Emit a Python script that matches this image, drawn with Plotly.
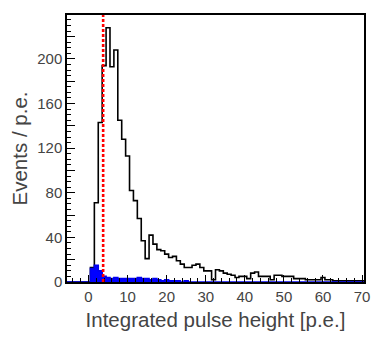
import plotly.graph_objects as go

# ---- data (bin centers in p.e., 1 p.e. wide bins) ----
bin_centers = list(range(-5, 71))

signal_counts = [
    0, 0, 0, 0, 0, 0,            # -5 .. 0
    13, 71, 143, 194, 228,       # 1 .. 5
    193, 208, 145, 128, 113,     # 6 .. 10
    82, 73, 57, 37, 21,          # 11 .. 15
    42, 34, 29, 28, 25,          # 16 .. 20
    22, 23, 19, 16, 13,          # 21 .. 25
    13, 15, 16, 13, 10,          # 26 .. 30
    10, 2, 11, 10, 8,            # 31 .. 35
    7, 6, 4, 5, 5,               # 36 .. 40
    3, 8, 9, 5, 5,               # 41 .. 45
    5, 2, 6, 6, 5,               # 46 .. 50
    5, 5, 3, 3, 3,               # 51 .. 55
    2, 2, 2, 2, 4,               # 56 .. 60
    2, 2, 1, 1, 1,               # 61 .. 65
    1, 1, 1, 1, 1,               # 66 .. 70
]

background_counts = [
    0, 0, 0, 0, 0, 0,            # -5 .. 0
    12, 15, 10, 5, 4,            # 1 .. 5
    3, 4, 3, 3, 3,               # 6 .. 10
    3, 3, 4, 3, 3,               # 11 .. 15
    2, 3, 2, 1, 2,               # 16 .. 20
    1, 1, 1, 0, 1,               # 21 .. 25
    0, 0, 0, 0, 0,               # 26 .. 30
] + [0] * 40                     # 31 .. 70

threshold_pe = 3.75

x_tick_vals = [0, 10, 20, 30, 40, 50, 60, 70]
y_tick_vals = [0, 20, 40, 60, 80, 100, 120, 140, 160, 180, 200, 220]
y_tick_text = ["0", "", "40", "", "80", "", "120", "", "160", "", "200", ""]

x_title = "Integrated pulse height [p.e.]"
y_title = "Events / p.e."


def step_xy(centers, counts):
    xs, ys = [], []
    for c, v in zip(centers, counts):
        xs += [c - 0.5, c + 0.5]
        ys += [v, v]
    return xs, ys


fig = go.Figure()

sx, sy = step_xy(bin_centers, signal_counts)
fig.add_trace(go.Scatter(x=sx, y=sy, mode="lines",
                         line=dict(color="black", width=1.6),
                         hoverinfo="skip", showlegend=False))

bx, by = step_xy(bin_centers, background_counts)
fig.add_trace(go.Scatter(x=bx, y=by, mode="lines", fill="tozeroy",
                         fillcolor="#0000ff",
                         line=dict(color="#0000ee", width=1.6),
                         hoverinfo="skip", showlegend=False))

fig.add_shape(type="line", xref="x", yref="paper",
              x0=threshold_pe, x1=threshold_pe, y0=0, y1=1,
              line=dict(color="#ff0000", width=2.6, dash="3px,2px"))

font_family = "'Liberation Sans', Arial, Helvetica, sans-serif"
ymax = max(signal_counts) * 1.05

# page body has an 8px margin, so the figure is sized/placed to compensate
fig.update_layout(
    width=365, height=328,
    margin=dict(l=59, r=9, t=7, b=54, autoexpand=False),
    paper_bgcolor="white", plot_bgcolor="white",
    font=dict(family=font_family, color="#444444", size=15),
    xaxis=dict(
        range=[-5.5, 70.5],
        tickmode="array", tickvals=x_tick_vals,
        ticks="inside", ticklen=7, tickwidth=1, tickcolor="black",
        minor=dict(dtick=2, tick0=0, ticks="inside", ticklen=4,
                   tickwidth=1, tickcolor="black", showgrid=False),
        showline=True, linecolor="black", linewidth=1.5, mirror=True,
        showgrid=False, zeroline=False,
        tickfont=dict(size=15),
        title=dict(text=x_title, font=dict(size=20.5), standoff=9),
    ),
    yaxis=dict(
        range=[0, ymax],
        tickmode="array", tickvals=y_tick_vals, ticktext=y_tick_text,
        ticks="inside", ticklen=8, tickwidth=1, tickcolor="black",
        minor=dict(dtick=5, tick0=0, ticks="inside", ticklen=4,
                   tickwidth=1, tickcolor="black", showgrid=False),
        showline=True, linecolor="black", linewidth=1.5, mirror=True,
        showgrid=False, zeroline=False,
        tickfont=dict(size=15),
        title=dict(text=y_title, font=dict(size=20.5), standoff=9),
    ),
)

fig.write_html("out.html", config={"displayModeBar": False})
